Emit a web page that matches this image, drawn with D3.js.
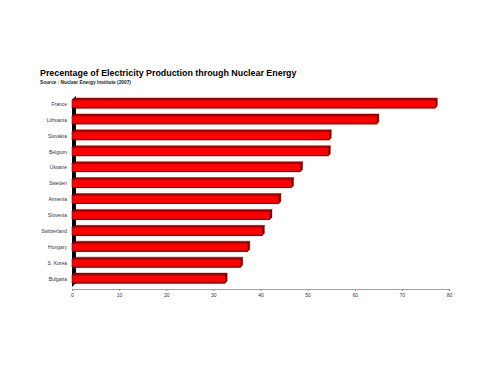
<!DOCTYPE html>
<html><head><meta charset="utf-8">
<script src="https://cdn.jsdelivr.net/npm/d3@7"></script>
<style>body{margin:0;background:#fff}</style>
</head><body>
<script>
const countries = ["France","Lithuania","Slovakia","Belgium","Ukraine","Sweden","Armenia","Slovenia","Switzerland","Hungary","S. Korea","Bulgaria"];
const values = [77.1, 64.7, 54.6, 54.4, 48.5, 46.6, 43.9, 42.0, 40.4, 37.3, 35.8, 32.5];
const xTicks = [0,10,20,30,40,50,60,70,80];
const titleText = "Precentage of Electricity Production through Nuclear Energy";
const subtitleText = "Source : Nuclear Energy Institute (2007)";

const W = 500, H = 375;
const svg = d3.select("body").append("svg").attr("width", W).attr("height", H)
  .style("font-family", "Arial, 'Liberation Sans', sans-serif");
svg.append("rect").attr("width", W).attr("height", H).attr("fill", "#fff");

const x = d3.scaleLinear().domain([0, 80]).range([72, 449]);
const y = d3.scaleBand().domain(countries).range([96, 287]).paddingInner(0.5).paddingOuter(0.25);
const dx = 2, dy = -2;

// title
svg.append("text").attr("x", 40).attr("y", 76).attr("font-size", 8.9).attr("font-weight", "bold")
  .attr("fill", "#000").text(titleText);
svg.append("text").attr("x", 40).attr("y", 84).attr("font-size", 4.8).attr("font-weight", "bold")
  .attr("fill", "#222").text(subtitleText);

// left wall
svg.append("path")
  .attr("d", `M${x(0)},${y.range()[0]+4} L${x(0)+4},${y.range()[0]} L${x(0)+4},${y.range()[1]-4} L${x(0)},${y.range()[1]} Z`)
  .attr("fill", "#000");

// x axis
const axisY = 289;
const ax = svg.append("g").attr("transform", `translate(0,${axisY})`)
  .call(d3.axisBottom(x).tickValues(xTicks).tickSize(2).tickPadding(2));
ax.select(".domain").attr("stroke", "#777").attr("stroke-width", 0.7);
ax.selectAll(".tick line").attr("stroke", "#777").attr("stroke-width", 0.7);
ax.selectAll("text").attr("font-size", 5).attr("fill", "#333").attr("font-family", "Arial, 'Liberation Sans', sans-serif");

// bars
const g = svg.append("g");
countries.forEach((c, i) => {
  const x0 = x(0), x1 = x(values[i]);
  const y0 = y(c), h = y.bandwidth();
  g.append("path").attr("d", `M${x0},${y0} L${x0+dx},${y0+dy} L${x1+dx},${y0+dy} L${x1},${y0} Z`)
    .attr("fill", "#a00000").attr("stroke", "#600000").attr("stroke-width", 0.4);
  g.append("path").attr("d", `M${x1},${y0} L${x1+dx},${y0+dy} L${x1+dx},${y0+h+dy} L${x1},${y0+h} Z`)
    .attr("fill", "#700000").attr("stroke", "#500000").attr("stroke-width", 0.4);
  g.append("rect").attr("x", x0).attr("y", y0).attr("width", x1 - x0).attr("height", h)
    .attr("fill", "#ff0000").attr("stroke", "#800000").attr("stroke-width", 0.6);
  g.append("line").attr("x1", x0).attr("x2", x1).attr("y1", y0 + h).attr("y2", y0 + h)
    .attr("stroke", "#600000").attr("stroke-width", 1);
});

// category labels
svg.append("g").selectAll("text").data(countries).join("text")
  .attr("x", 67).attr("y", d => y(d) + y.bandwidth()/2 + 1.8)
  .attr("text-anchor", "end").attr("font-size", 5).attr("fill", "#333").text(d => d);
</script>
</body></html>
